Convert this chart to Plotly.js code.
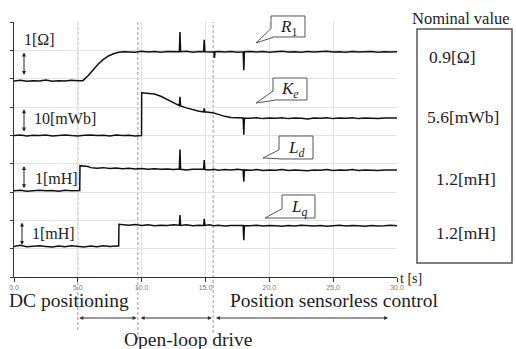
<!DOCTYPE html>
<html><head><meta charset="utf-8">
<script src="https://cdn.plot.ly/plotly-3.0.1.min.js"></script>
<style>html,body{margin:0;padding:0;background:#fff}</style>
</head><body><div id="chart" style="width:516px;height:349px"></div>
<script>
// ---- data (values in chart tick units; one tick = 1 unit of each quantity) ----
const xTicks = [0, 5, 10, 15, 20, 25, 30];
const xTickLabels = ["0.0", "5.0", "10.0", "15.0", "20.0", "25.0", "30.0"];

const R1_t = [0,0.5,1,1.5,2,2.5,3,3.5,4,4.5,5,5.4,5.8,6.2,6.6,7.0,7.4,7.8,8.2,8.6,9,9.5,10,10.5,11,11.5,12,12.5,12.95,13.0,13.05,13.5,14,14.5,14.85,14.9,14.95,15.3,15.65,15.7,15.75,16,16.5,17,17.5,17.95,18.0,18.05,18.5,19,19.5,20,20.5,21,21.5,22,22.5,23,23.5,24,24.5,25,25.5,26,26.5,27,27.5,28,28.5,29,29.5,30];
const R1_v = [6.92,6.94,6.91,6.93,6.92,6.95,6.91,6.93,6.92,6.94,6.93,6.93,7.10,7.32,7.52,7.68,7.80,7.88,7.93,7.95,7.95,7.93,7.97,7.94,7.96,7.93,7.96,7.95,7.95,8.65,7.95,7.97,7.93,7.96,7.95,8.37,7.95,7.94,7.95,7.73,7.95,7.96,7.94,7.96,7.93,7.95,7.30,7.95,7.96,7.94,7.96,7.93,7.95,7.97,7.94,7.95,7.93,7.96,7.94,7.95,7.97,7.94,7.95,7.93,7.96,7.94,7.95,7.96,7.93,7.95,7.94,7.95];

const Ke_t = [0,0.5,1,1.5,2,2.5,3,3.5,4,4.5,5,5.5,6,6.5,7,7.5,8,8.5,9,9.5,9.99,10.0,10.5,11,11.5,12,12.5,12.95,13.0,13.05,13.5,14,14.5,14.85,14.9,14.95,15.3,15.65,16,16.5,17,17.5,17.95,18.0,18.05,18.5,19,19.5,20,20.5,21,21.5,22,22.5,23,23.5,24,24.5,25,25.5,26,26.5,27,27.5,28,28.5,29,29.5,30];
const Ke_v = [4.99,5.01,4.98,5.00,4.99,5.01,4.98,5.00,5.01,4.99,4.98,5.00,5.01,4.99,5.00,4.98,5.01,4.99,5.00,4.98,4.99,6.50,6.47,6.46,6.38,6.27,6.15,6.05,6.36,6.04,5.97,5.90,5.85,5.83,5.95,5.83,5.81,5.79,5.74,5.67,5.63,5.61,5.61,5.02,5.61,5.60,5.62,5.59,5.61,5.60,5.62,5.59,5.61,5.60,5.58,5.61,5.60,5.62,5.59,5.61,5.60,5.62,5.59,5.61,5.60,5.59,5.61,5.60,5.61];

const Ld_t = [0,0.5,1,1.5,2,2.5,3,3.5,4,4.5,5,5.15,5.17,5.5,5.8,6,6.5,7,7.5,8,8.5,9,9.5,10,10.5,11,11.5,12,12.5,12.95,13.0,13.05,13.5,14,14.5,14.85,14.9,14.95,15.3,15.65,16,16.5,17,17.5,17.95,18.0,18.05,18.5,19,19.5,20,20.5,21,21.5,22,22.5,23,23.5,24,24.5,25,25.5,26,26.5,27,27.5,28,28.5,29,29.5,30];
const Ld_v = [3.04,3.06,3.03,3.05,3.06,3.04,3.05,3.03,3.06,3.04,3.05,3.05,3.93,3.92,3.90,3.86,3.84,3.86,3.83,3.85,3.82,3.84,3.81,3.83,3.80,3.82,3.80,3.81,3.79,3.81,4.50,3.80,3.78,3.80,3.79,3.80,4.13,3.79,3.78,3.80,3.77,3.79,3.78,3.80,3.78,3.36,3.78,3.77,3.79,3.76,3.78,3.77,3.79,3.76,3.78,3.77,3.75,3.78,3.77,3.79,3.76,3.78,3.77,3.79,3.76,3.78,3.77,3.76,3.78,3.77,3.78];

const Lq_t = [0,0.5,1,1.5,2,2.5,3,3.5,4,4.5,5,5.5,6,6.5,7,7.5,8,8.2,8.22,8.5,9,9.5,10,10.5,11,11.5,12,12.5,12.95,13.0,13.05,13.5,14,14.5,14.85,14.9,14.95,15.3,15.65,16,16.5,17,17.5,17.95,18.0,18.05,18.5,19,19.5,20,20.5,21,21.5,22,22.5,23,23.5,24,24.5,25,25.5,26,26.5,27,27.5,28,28.5,29,29.5,30];
const Lq_v = [1.08,1.12,1.07,1.09,1.10,1.08,1.06,1.09,1.07,1.10,1.08,1.06,1.09,1.07,1.10,1.08,1.09,1.09,1.86,1.85,1.83,1.85,1.82,1.84,1.81,1.83,1.82,1.84,1.83,2.19,1.82,1.84,1.81,1.83,1.82,2.05,1.82,1.84,1.81,1.83,1.80,1.82,1.81,1.82,1.30,1.82,1.81,1.83,1.80,1.82,1.81,1.79,1.82,1.80,1.83,1.81,1.80,1.82,1.79,1.81,1.83,1.80,1.82,1.81,1.79,1.82,1.80,1.81,1.83,1.81];

const phaseBounds = [5.0, 9.7, 15.6];
const phaseArrows = [[5.0, 9.6], [9.8, 15.5], [15.7, 29.3]];
const scaleLabels = ["1[Ω]", "10[mWb]", "1[mH]", "1[mH]"];
const scaleRanges = [[7, 8], [5, 6], [3, 4], [1, 2]];
const seriesNames = ["<i>R</i><sub>1</sub>", "<i>K</i><sub><i>e</i></sub>", "<i>L</i><sub><i>d</i></sub>", "<i>L</i><sub><i>q</i></sub>"];
const nominalValues = ["0.9[Ω]", "5.6[mWb]", "1.2[mH]", "1.2[mH]"];

// ---- layout helpers (pixel -> paper) ----
const L = 14, R = 397, T = 22, B = 277;
const px = x => (x - L) / (R - L);
const py = y => (B - y) / (B - T);
const serif = "Liberation Serif, Times New Roman, serif";

const lineStyle = {color: "#111", width: 1.5};
const traces = [[R1_t, R1_v], [Ke_t, Ke_v], [Ld_t, Ld_v], [Lq_t, Lq_v]].map(([t, v]) => ({
  x: t, y: v, type: "scatter", mode: "lines", line: lineStyle, hoverinfo: "skip"
}));

const shapes = [];
const annotations = [];
function label(x, y, text, size, xa) {
  annotations.push({xref: "paper", yref: "paper", x: px(x), y: py(y), xanchor: xa || "left",
    yanchor: "middle", text: text, showarrow: false, font: {family: serif, size: size, color: "#222"}});
}

// dashed phase boundaries
const bottoms = [330, 340, 333];
phaseBounds.forEach((b, i) => {
  shapes.push({type: "line", xref: "paper", yref: "paper", x0: b / 30, x1: b / 30,
    y0: py(bottoms[i]), y1: 1, layer: "between", line: {color: "#999", width: 1, dash: "3px,2px"}});
});

// phase arrows
phaseArrows.forEach(([a, b]) => {
  annotations.push({xref: "paper", yref: "paper", x: b / 30, y: py(318), ax: -(b - a) / 30 * (R - L), ay: 0,
    axref: "pixel", ayref: "pixel", text: "", showarrow: true, arrowhead: 2, arrowsize: 0.8, arrowwidth: 1,
    arrowside: "end+start", arrowcolor: "#333", standoff: 0, startstandoff: 0});
});

// left scale arrows and labels
const arrowX = [24, 24, 24, 22];
const labelPos = [[22, 39], [32, 118], [33, 178], [30, 233]];
scaleRanges.forEach(([lo, hi], i) => {
  const top = hi - 0.08, bot = lo + 0.08;
  annotations.push({xref: "paper", yref: "y", x: px(arrowX[i]), y: top, ax: 0, ay: (top - bot) * (B - T) / 9,
    axref: "pixel", ayref: "pixel", text: "", showarrow: true, arrowhead: 2, arrowsize: 0.8, arrowwidth: 1,
    arrowside: "end+start", arrowcolor: "#222", standoff: 0, startstandoff: 0});
  label(labelPos[i][0], labelPos[i][1], scaleLabels[i], 16, "left");
});

// callout boxes
const callouts = [
  {box: [271, 16, 305, 37], tip: [256, 43]},
  {box: [273, 78, 307, 100], tip: [256, 103]},
  {box: [279, 136, 313, 159], tip: [263, 158]},
  {box: [282, 195, 315, 218], tip: [265, 218]}
];
callouts.forEach((c, i) => {
  const [x0, y0, x1, y1] = c.box, [tx, ty] = c.tip;
  const pts = [[x0, y0], [x1, y0], [x1, y1], [x0 + 3, y1], [tx, ty], [x0, y0 + (y1 - y0) * 0.6]];
  const path = "M" + pts.map(p => px(p[0]).toFixed(5) + "," + py(p[1]).toFixed(5)).join(" L") + " Z";
  shapes.push({type: "path", xref: "paper", yref: "paper", path: path, fillcolor: "#fff",
    line: {color: "#555", width: 1}, layer: "above"});
  label((x0 + x1) / 2, (y0 + y1) / 2 + 1, seriesNames[i], 17, "center");
});

// nominal value box
shapes.push({type: "rect", xref: "paper", yref: "paper", x0: px(417), x1: px(512), y0: py(263), y1: py(29),
  line: {color: "#555", width: 1.5}, fillcolor: "rgba(0,0,0,0)"});
label(461, 18, "Nominal value", 16.5, "center");
const nomPos = [[427, 57, "left"], [425, 117, "left"], [498, 179, "right"], [498, 233, "right"]];
nominalValues.forEach((s, i) => label(nomPos[i][0], nomPos[i][1], s, 17.5, nomPos[i][2]));

// axis label and phase texts
label(398, 278, "t [s]", 14, "left");
label(7, 300, "DC positioning", 19.5, "left");
label(228, 300, "Position sensorless control", 19.5, "left");
label(122, 339, "Open-loop drive", 19.5, "left");

const layout = {
  width: 516, height: 349, autosize: false,
  margin: {l: L, r: 516 - R, t: T, b: 349 - B, pad: 0},
  paper_bgcolor: "#fff", plot_bgcolor: "#fff", showlegend: false,
  xaxis: {range: [0, 30], tickvals: xTicks, ticktext: xTickLabels, showgrid: true, gridcolor: "#e2e2e2",
    zeroline: false, showline: true, linecolor: "#333", linewidth: 1, ticks: "outside", ticklen: 4,
    tickcolor: "#333", tickfont: {family: "Arial, sans-serif", size: 7, color: "#777"}, fixedrange: true},
  yaxis: {range: [0, 9], tickvals: [0,1,2,3,4,5,6,7,8,9], showticklabels: false, showgrid: true, gridcolor: "#e2e2e2",
    zeroline: false, showline: true, linecolor: "#333", linewidth: 1, ticks: "outside", ticklen: 3,
    tickcolor: "#333", fixedrange: true},
  shapes: shapes, annotations: annotations
};
Plotly.newPlot("chart", traces, layout, {displayModeBar: false, staticPlot: true});
</script></body></html>
